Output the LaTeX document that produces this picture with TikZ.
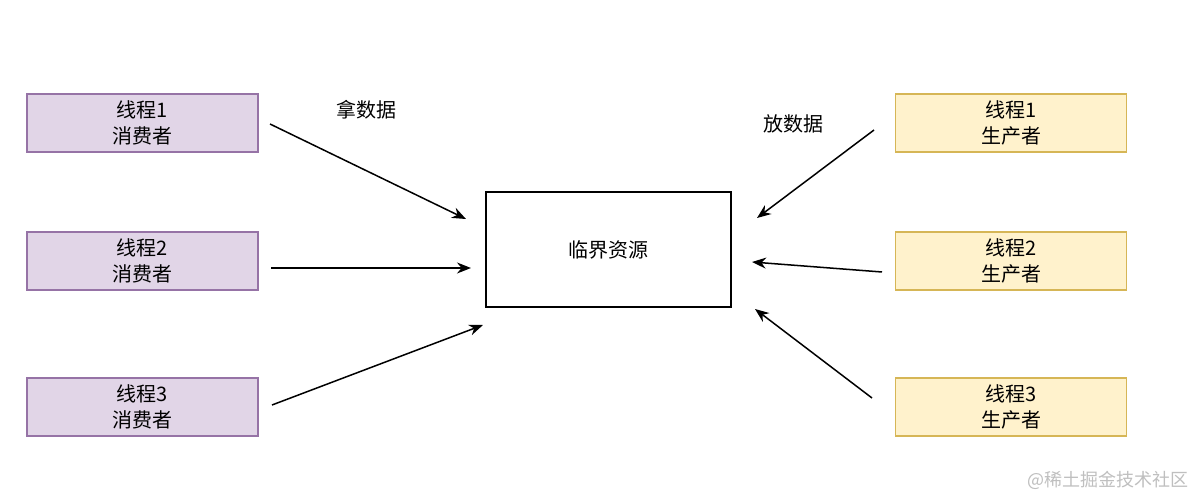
\documentclass[tikz,border=0pt]{standalone}
\usepackage{fontspec}
\setmainfont{Noto Sans CJK SC}
\usetikzlibrary{arrows.meta}
\definecolor{pf}{HTML}{E1D5E7}\definecolor{ps}{HTML}{9673A6}
\definecolor{yf}{HTML}{FFF2CC}\definecolor{ys}{HTML}{D6B656}
\begin{document}
\begin{tikzpicture}[x=1pt,y=-1pt,
  box/.style={draw,line width=1.2pt,minimum width=231pt,minimum height=58pt,align=center,font=\fontsize{20}{26}\selectfont},
  cons/.style={box,fill=pf,draw=ps},
  prod/.style={box,fill=yf,draw=ys},
  arr/.style={-{Stealth[length=14pt,width=11pt]},line width=1.5pt},
  lbl/.style={font=\fontsize{20}{24}\selectfont}]
\useasboundingbox[fill=white] (0,0) rectangle (1195,497);
\node[cons] (c1) at (142.5,123) {线程1\\消费者};
\node[cons] (c2) at (142.5,261) {线程2\\消费者};
\node[cons] (c3) at (142.5,407) {线程3\\消费者};
\node[prod] (p1) at (1011,123) {线程1\\生产者};
\node[prod] (p2) at (1011,261) {线程2\\生产者};
\node[prod] (p3) at (1011,407) {线程3\\生产者};
\node[draw,line width=1.5pt,minimum width=245pt,minimum height=115pt,lbl] (r) at (608.5,249.5) {临界资源};
\coordinate (a1s) at (270,124); \coordinate (a1e) at (466,219);
\coordinate (a2s) at (271,268); \coordinate (a2e) at (471,268);
\coordinate (a3s) at (272,405); \coordinate (a3e) at (483,325);
\coordinate (b1s) at (874,130); \coordinate (b1e) at (757,218);
\coordinate (b2s) at (882,272); \coordinate (b2e) at (752,262);
\coordinate (b3s) at (872,398); \coordinate (b3e) at (755,309);
\foreach \s/\e in {a1s/a1e,a2s/a2e,a3s/a3e,b1s/b1e,b2s/b2e,b3s/b3e} \draw[arr] (\s) -- (\e);
\node[lbl] (t1) at (366,110) {拿数据};
\node[lbl] (t2) at (793,124) {放数据};
\node[font=\fontsize{18}{20}\selectfont,text=gray!50] (wm) at (1108,480) {@稀土掘金技术社区};
\end{tikzpicture}
\end{document}
